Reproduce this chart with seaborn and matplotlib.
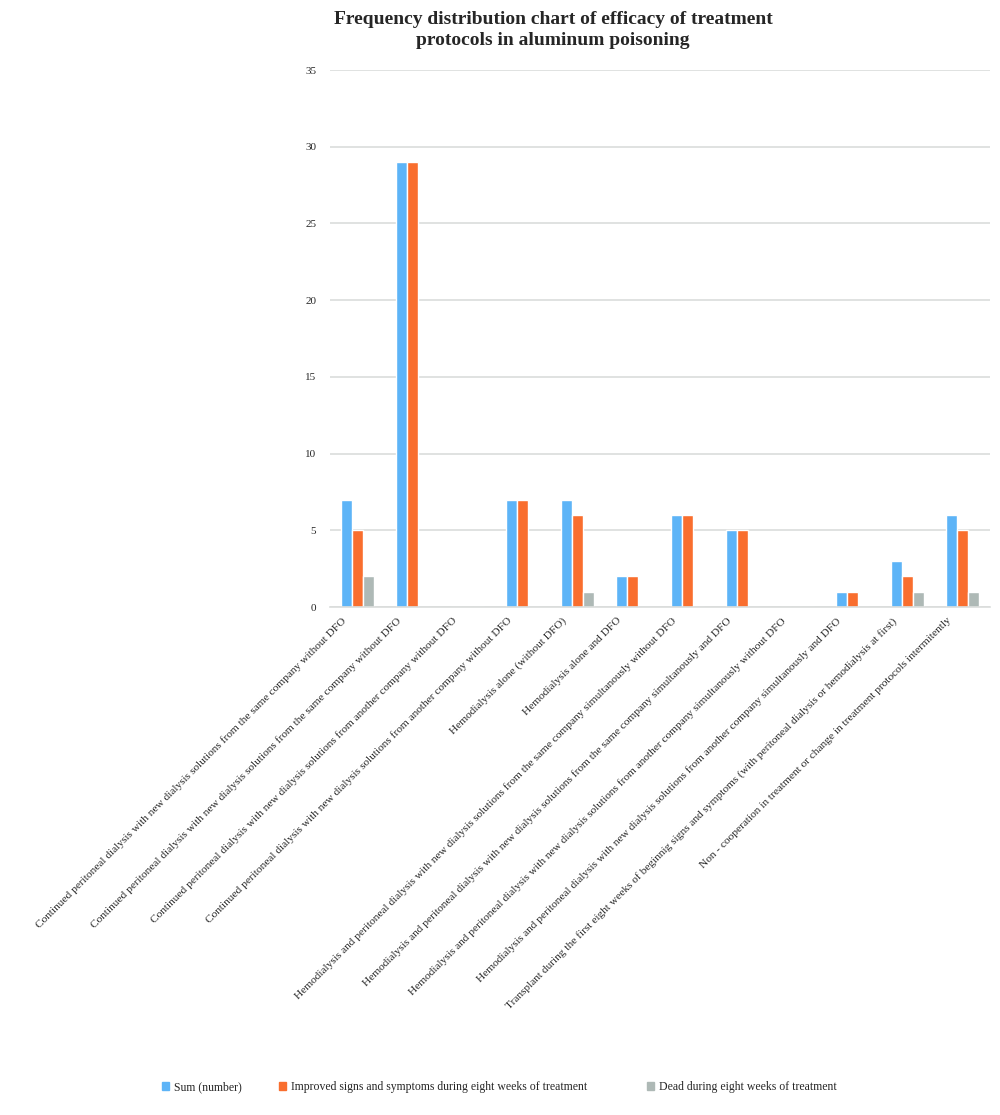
import pandas as pd
import matplotlib.pyplot as plt
import matplotlib.transforms as mtransforms
import seaborn as sns

# Treatment protocols (x axis)
protocols = [
    "Continued peritoneal dialysis with new dialysis solutions from the same company without DFO",
    "Continued peritoneal dialysis with new dialysis solutions from the same company without DFO",
    "Continued peritoneal dialysis with new dialysis solutions from another company without DFO",
    "Continued peritoneal dialysis with new dialysis solutions from another company without DFO",
    "Hemodialysis alone (without DFO)",
    "Hemodialysis alone and DFO",
    "Hemodialysis and peritoneal dialysis with new dialysis solutions from the same company simultanously without DFO",
    "Hemodialysis and peritoneal dialysis with new dialysis solutions from the same company simultanously and DFO",
    "Hemodialysis and peritoneal dialysis with new dialysis solutions from another company simultanously without DFO",
    "Hemodialysis and peritoneal dialysis with new dialysis solutions from another company simultanously and DFO",
    "Transplant during the first eight weeks of beginnig signs and symptoms (with peritoneal dialysis or hemodialysis at first)",
    "Non - cooperation in treatment or change in treatment protocols intermitently",
]

series_names = ["Sum (number)",
                "Improved signs and symptoms during eight weeks of treatment",
                "Dead during eight weeks of treatment"]

sum_number = [7, 29, 0, 7, 7, 2, 6, 5, 0, 1, 3, 6]
improved = [5, 29, 0, 7, 6, 2, 6, 5, 0, 1, 2, 5]
dead = [2, 0, 0, 0, 1, 0, 0, 0, 0, 0, 1, 1]

colors = ["#5DB4F7", "#F96E2E", "#AEB9B6"]

# long format; protocol index keeps the duplicated labels apart
rows = []
for name, vals in zip(series_names, [sum_number, improved, dead]):
    for i, v in enumerate(vals):
        rows.append({"protocol": i, "series": name, "count": v})
df = pd.DataFrame(rows)

sns.set_style("white")
plt.rcParams['font.family'] = ['Liberation Serif', 'DejaVu Serif']

fig = plt.figure(figsize=(10, 11.15), dpi=100)
ax = fig.add_axes([0.33, 0.4556, 0.66, 0.4816])

sns.barplot(data=df, x="protocol", y="count", hue="series",
            palette=colors, width=0.6, ax=ax, saturation=1,
            legend=False)

ax.set_ylim(0, 35)
ax.set_yticks(range(0, 36, 5))
ax.yaxis.grid(True, color="#DADDDC", linewidth=1.2)
ax.set_axisbelow(True)
for s in ["top", "right", "left"]:
    ax.spines[s].set_visible(False)
ax.spines["bottom"].set_color("#DADDDC")
ax.spines["bottom"].set_linewidth(1.2)
ax.tick_params(axis="both", length=0, labelsize=8, pad=10)

ax.set_xticks(range(len(protocols)))
ax.set_xticklabels(protocols, rotation=45, ha="right",
                   rotation_mode="anchor", fontsize=8.2)
# nudge the rotated labels so they end just left of each group
shift = mtransforms.ScaledTranslation(-16 / 100, 5 / 100, fig.dpi_scale_trans)
for lab in ax.get_xticklabels():
    lab.set_transform(lab.get_transform() + shift)
ax.set_xlabel("")
ax.set_ylabel("")

fig.text(0.553, 0.99,
         "Frequency distribution chart of efficacy of treatment\nprotocols in aluminum poisoning",
         ha="center", va="top", fontsize=14, fontweight="bold",
         linespacing=1.3)

# legend entries placed one by one to match the uneven spacing
legend_x = [0.162, 0.279, 0.647]
for name, c, x in zip(series_names, colors, legend_x):
    fig.legend([plt.Rectangle((0, 0), 1, 1, color=c)], [name],
               loc="center left", bbox_to_anchor=(x, 0.025),
               frameon=False, fontsize=8.5, handlelength=0.6,
               handleheight=0.6, handletextpad=0.4,
               borderpad=0, borderaxespad=0)

plt.savefig("out.png", dpi=100)
